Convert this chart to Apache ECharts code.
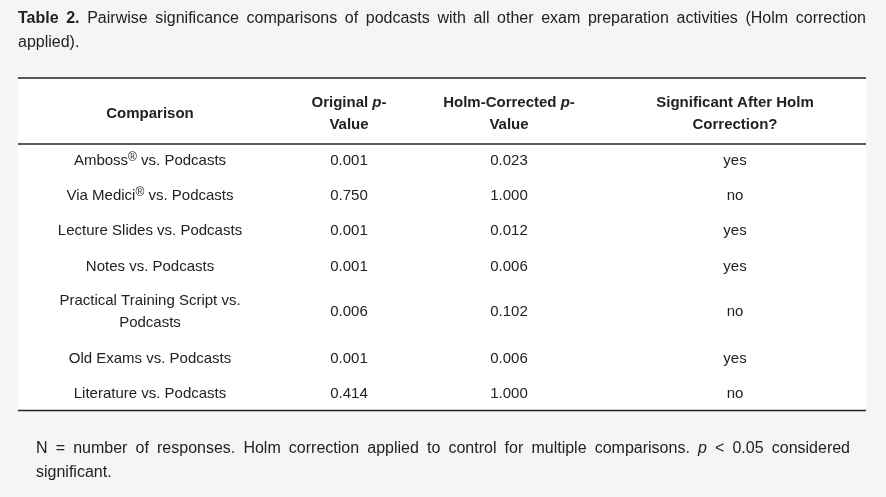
<!DOCTYPE html>
<html><head><meta charset="utf-8">
<script src="https://cdn.jsdelivr.net/npm/echarts@6/dist/echarts.min.js"></script>
<style>html,body{margin:0;padding:0;background:#f5f5f5}#c{width:886px;height:497px}</style>
</head><body><div id="c"></div>
<script>
const headers = [["Comparison"], ["Original {i|p}-", "Value"], ["Holm-Corrected {i|p}-", "Value"], ["Significant After Holm", "Correction?"]];
const comparisons = [["Amboss{s|®} vs. Podcasts"], ["Via Medici{s|®} vs. Podcasts"], ["Lecture Slides vs. Podcasts"], ["Notes vs. Podcasts"], ["Practical Training Script vs.", "Podcasts"], ["Old Exams vs. Podcasts"], ["Literature vs. Podcasts"]];
const originalP = ["0.001", "0.750", "0.001", "0.001", "0.006", "0.001", "0.414"];
const holmP = ["0.023", "1.000", "0.012", "0.006", "0.102", "0.006", "1.000"];
const significant = ["yes", "no", "yes", "yes", "no", "yes", "no"];
const titleLine1 = [["Table", "b"], ["2.", "b"], ["Pairwise"], ["significance"], ["comparisons"], ["of"], ["podcasts"], ["with"], ["all"], ["other"], ["exam"], ["preparation"], ["activities"], ["(Holm"], ["correction"]];
const titleLine2 = "applied).";
const noteLine1 = [["N"], ["="], ["number"], ["of"], ["responses."], ["Holm"], ["correction"], ["applied"], ["to"], ["control"], ["for"], ["multiple"], ["comparisons."], ["p", "i"], ["<"], ["0.05"], ["considered"]];
const noteLine2 = "significant.";

const FF = '"Liberation Sans", Arial, sans-serif';
const col = '#222';
const cv = document.createElement('canvas').getContext('2d');
function fontOf(st, size){ return (st==='b'?'bold ':st==='i'?'italic ':'') + size + 'px ' + FF; }
function justify(words, x0, x1, y, size){
  let ws = words.map(w => { cv.font = fontOf(w[1], size); return cv.measureText(w[0]).width; });
  let tot = ws.reduce((a,b)=>a+b,0);
  let gap = (x1 - x0 - tot) / (words.length - 1);
  let x = x0, out = [];
  words.forEach((w,i) => {
    out.push({type:'text', x:x, y:y, style:{text:w[0], font:fontOf(w[1], size), fill:col, textVerticalAlign:'middle'}});
    x += ws[i] + gap;
  });
  return out;
}
const SZ = 15;
const rich = {i:{fontStyle:'italic', fontSize:SZ, fontWeight:'bold', fontFamily:FF, fill:col}, s:{fontSize:12, verticalAlign:'top', fontFamily:FF, fill:col, padding:[0,0,7,0]}};
const colX = [150, 349, 509, 735];
const rowY = [161, 196, 231, 267, 312, 359, 394];
const g = [];
g.push({type:'rect', shape:{x:18, y:78, width:848, height:333}, style:{fill:'#fff'}});
[[78,1.5],[144,1.5],[410.5,1.5]].forEach(l => g.push({type:'line', shape:{x1:18, y1:l[0], x2:866, y2:l[0]}, style:{stroke:col, lineWidth:l[1]}}));
function cell(lines, x, yc, bold){
  const lh = 22;
  const n = lines.length;
  lines.forEach((t, k) => {
    const y = yc + (k - (n-1)/2) * lh;
    const r = JSON.parse(JSON.stringify(rich));
    r.i.fontWeight = bold ? 'bold' : 'normal';
    g.push({type:'text', x:x, y:y, style:{text:t, rich:r, font:fontOf(bold?'b':'', SZ), fill:col, textAlign:'center', textVerticalAlign:'middle'}});
  });
}
headers.forEach((h, j) => cell(h, colX[j], 114, true));
comparisons.forEach((c, r) => {
  cell(c, colX[0], rowY[r], false);
  cell([originalP[r]], colX[1], rowY[r], false);
  cell([holmP[r]], colX[2], rowY[r], false);
  cell([significant[r]], colX[3], rowY[r], false);
});
g.push(...justify(titleLine1, 18, 866, 19, 16));
g.push({type:'text', x:18, y:43, style:{text:titleLine2, font:fontOf('',16), fill:col, textVerticalAlign:'middle'}});
g.push(...justify(noteLine1, 36, 850, 449, 16));
g.push({type:'text', x:36, y:473, style:{text:noteLine2, font:fontOf('',16), fill:col, textVerticalAlign:'middle'}});
const chart = echarts.init(document.getElementById('c'));
chart.setOption({backgroundColor:'#f5f5f5', animation:false, graphic:{elements:g}});
</script></body></html>
